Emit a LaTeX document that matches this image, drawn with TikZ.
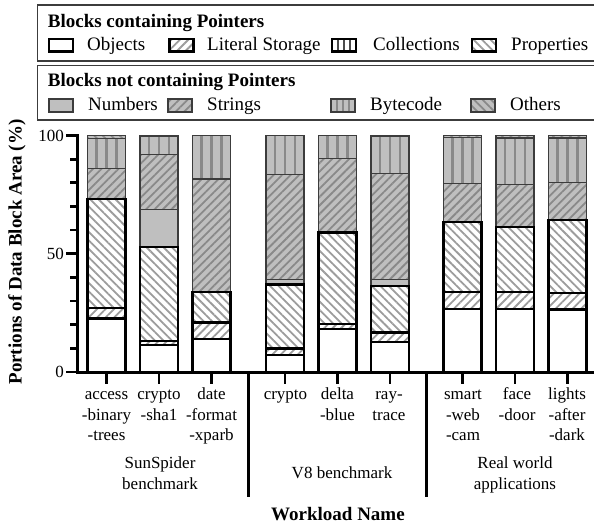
\documentclass[tikz,border=0pt]{standalone}
\usepackage{fontspec}
\setmainfont{Liberation Serif}
\usetikzlibrary{patterns.meta}

\definecolor{fillgray}{HTML}{BFBFBF}
\definecolor{hatchdark}{HTML}{898989}
\definecolor{hatchlight}{HTML}{9C9C9C}
\definecolor{edgegray}{HTML}{3C3C3C}

% one bar segment: centre x, low value, high value, style
\newcommand\barseg[4]{\path[#4] (#1-19,#2) rectangle (#1+19,#3);}
% bytecode segment: gray with vertical darker stripes
\newcommand\byteseg[3]{%
  \fill[fillgray] (#1-19,#2) rectangle (#1+19,#3);
  \foreach \dx in {-10,0,10}
    \draw[hatchdark, line width=2.7pt] (#1+\dx,#2) -- (#1+\dx,#3);
  \draw[edgegray, line width=1.3pt] (#1-19,#2) rectangle (#1+19,#3);}

\begin{document}
\begin{tikzpicture}[x=1pt, y=-1pt,
  ptrseg/.style={draw=black, line width=2.2pt},
  npseg/.style={draw=edgegray, line width=1.3pt},
  objs/.style={ptrseg, fill=white},
  lits/.style={ptrseg, preaction={fill=white},
    pattern={Lines[angle=45, distance=6pt, line width=1.8pt]}, pattern color=hatchlight},
  props/.style={ptrseg, preaction={fill=white},
    pattern={Lines[angle=-45, distance=6pt, line width=1.8pt]}, pattern color=hatchlight},
  nums/.style={npseg, fill=fillgray},
  strs/.style={npseg, preaction={fill=fillgray},
    pattern={Lines[angle=45, distance=6pt, line width=1.8pt]}, pattern color=hatchdark},
  oths/.style={npseg, preaction={fill=fillgray},
    pattern={Lines[angle=-45, distance=6pt, line width=1.8pt]}, pattern color=hatchdark},
  legbox/.style={draw=edgegray, line width=1.5pt},
  legtitle/.style={font=\bfseries\fontsize{19}{22}\selectfont, inner sep=0pt, anchor=base west},
  legtxt/.style={font=\fontsize{19}{22}\selectfont, inner sep=0pt, anchor=base west},
  xlab/.style={font=\fontsize{17}{20.7}\selectfont, inner sep=0pt, anchor=north, align=center},
  ylabnum/.style={font=\fontsize{17}{20}\selectfont, inner sep=0pt, anchor=east},
  axisline/.style={black, line width=3pt},
  tickline/.style={black, line width=2.7pt},
]
\useasboundingbox (0,0) rectangle (594,525);

% ---------- legend ----------
\draw[legbox] (37.7,5) rectangle (600,61);
\draw[legbox] (37.7,65.7) rectangle (600,120);
\node[legtitle] (ttl1) at (47.7,27.5) {Blocks containing Pointers};
\node[legtitle] (ttl2) at (47.7,86.5) {Blocks not containing Pointers};

% pointer blocks
\path[objs] (49,39) rectangle (73,51.5);
\node[legtxt] (lobj) at (87,50.5) {Objects};
\path[lits] (169.5,39) rectangle (193.5,51.5);
\node[legtxt] (llit) at (207,50.5) {Literal Storage};
\fill[white] (332,39) rectangle (356,51.5);
\foreach \dx in {6,12,18} \draw[black!70, line width=2.2pt] (332+\dx,39) -- (332+\dx,51.5);
\draw[ptrseg] (332,39) rectangle (356,51.5);
\node[legtxt] (lcol) at (373,50.5) {Collections};
\path[props] (472,39) rectangle (496,51.5);
\node[legtxt] (lprp) at (511,50.5) {Properties};

% non-pointer blocks
\path[nums] (49,99) rectangle (73,112);
\node[legtxt] (lnum) at (88,110.5) {Numbers};
\path[strs] (168,99) rectangle (192,112);
\node[legtxt] (lstr) at (207,110.5) {Strings};
\fill[fillgray] (331,99) rectangle (355,112);
\foreach \dx in {6,12,18} \draw[hatchdark, line width=2.2pt] (331+\dx,99) -- (331+\dx,112);
\draw[npseg] (331,99) rectangle (355,112);
\node[legtxt] (lbyt) at (370,110.5) {Bytecode};
\path[oths] (471,99) rectangle (495,112);
\node[legtxt] (loth) at (510,110.5) {Others};

% ---------- plot area (values in percent, upwards) ----------
\begin{scope}[shift={(0,372)}, y=2.365pt]
  % bars: centre / objects / literal / properties / numbers / strings / bytecode
  \foreach \c/\o/\l/\p/\n/\s/\b in {
      106.5/22.6/27.1/73.2/73.2/86.1/98.8,
      159/11.3/13.0/52.9/68.8/92.1/99.6,
      211.5/13.8/20.9/33.9/33.9/81.6/100,
      285/7.1/9.9/37.0/39.2/83.6/100,
      337.5/18.1/20.2/59.0/59.0/90.3/100,
      390/12.7/16.7/36.2/39.1/84.0/99.6,
      462.5/26.5/33.9/63.5/63.5/79.7/99.1,
      515/26.8/33.9/61.4/61.4/79.3/99.0,
      567.5/26.4/33.4/64.2/64.2/80.2/99.0}{
    \barseg{\c}{\b}{100}{oths}
    \byteseg{\c}{\s}{\b}
    \barseg{\c}{\n}{\s}{strs}
    \barseg{\c}{\p}{\n}{nums}
    \barseg{\c}{\l}{\p}{props}
    \barseg{\c}{\o}{\l}{lits}
    \barseg{\c}{0}{\o}{objs}
  }

  % y axis with ticks
  \draw[axisline] (77.5,-0.6) -- (77.5,100.6);
  \foreach \v in {10,20,30,40,60,70,80,90}
    \draw[tickline] (70,\v) -- (77.5,\v);
  \foreach \v in {0,50,100}
    \draw[tickline] (66,\v) -- (77.5,\v);
  \node[ylabnum] (y0) at (64,0) {0};
  \node[ylabnum] (y50) at (64,50) {50};
  \node[ylabnum] (y100) at (64,100) {100};
\end{scope}

% x axis, ticks and group separators
\draw[axisline] (76,372) -- (600,372);
\foreach \c in {106.5,159,211.5,285,337.5,390,462.5,515,567.5}
  \draw[tickline] (\c,372) -- (\c,384);
\coordinate (sepAtop) at (248.3,372);
\coordinate (sepAbot) at (248.3,497);
\coordinate (sepBtop) at (426.7,372);
\coordinate (sepBbot) at (426.7,497);
\draw[axisline] (sepAtop) -- (sepAbot);
\draw[axisline] (sepBtop) -- (sepBbot);

% workload labels
\node[xlab] (w1) at (106.5,384.8) {\strut access\\-binary\\-trees};
\node[xlab] (w2) at (159,384.8) {\strut crypto\\-sha1};
\node[xlab] (w3) at (211.5,384.8) {\strut date\\-format\\-xparb};
\node[xlab] (w4) at (285.5,384.8) {\strut crypto};
\node[xlab] (w5) at (337.5,384.8) {\strut delta\\-blue};
\node[xlab] (w6) at (389,384.8) {\strut ray-\\trace};
\node[xlab] (w7) at (463,384.8) {\strut smart\\-web\\-cam};
\node[xlab] (w8) at (517,384.8) {\strut face\\-door};
\node[xlab] (w9) at (567,384.8) {\strut lights\\-after\\-dark};

% group labels
\node[xlab] (g1) at (160,453.8) {\strut SunSpider\\benchmark};
\node[xlab] (g2) at (342,463.8) {\strut V8 benchmark};
\node[xlab] (g3) at (515,453.8) {\strut Real world\\applications};

% axis titles
\node[font=\bfseries\fontsize{19}{22}\selectfont, inner sep=0pt, anchor=base] (xtitle) at (338,520) {Workload Name};
\node[font=\bfseries\fontsize{19}{22}\selectfont, inner sep=0pt, rotate=90] (ytitle) at (17,252) {Portions of Data Block Area (\%)};
\end{tikzpicture}
\end{document}
